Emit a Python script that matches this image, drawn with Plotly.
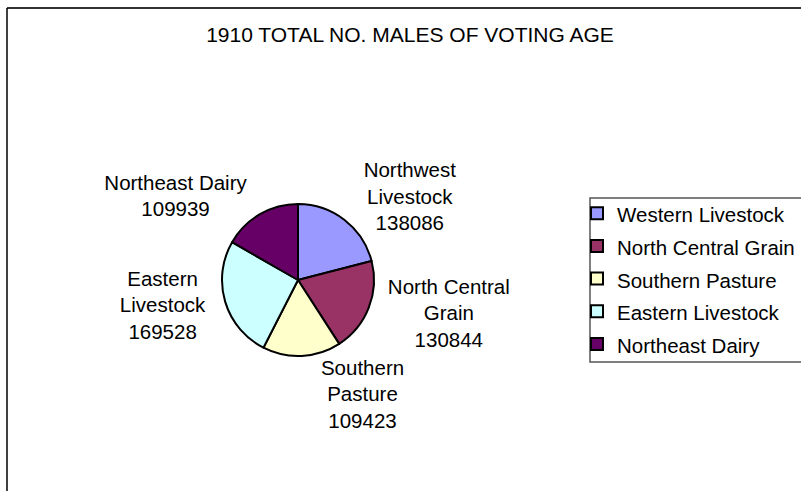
import plotly.graph_objects as go

categories = ["Western Livestock", "North Central Grain", "Southern Pasture",
              "Eastern Livestock", "Northeast Dairy"]
slice_labels = ["Northwest<br>Livestock", "North Central<br>Grain", "Southern<br>Pasture",
                "Eastern<br>Livestock", "Northeast Dairy"]
values = [138086, 130844, 109423, 169528, 109939]
colors = ["#9999FF", "#993366", "#FFFFCC", "#CCFFFF", "#660066"]

W, H = 801, 491
cx, cy, r = 298, 280, 76
FONT = "Liberation Sans, Arial, sans-serif"
FS = 20.5

legend_names = [f"<span style='font-size:{FS}px'>{c}</span>" for c in categories]

fig = go.Figure(go.Pie(
    labels=legend_names,
    values=values,
    customdata=slice_labels,
    texttemplate="%{customdata}<br>%{value:.0f}",
    textposition="outside",
    textfont=dict(family=FONT, size=FS, color="black"),
    marker=dict(colors=colors, line=dict(color="black", width=2)),
    sort=False,
    direction="clockwise",
    rotation=0,
    domain=dict(x=[(cx - r) / W, (cx + r) / W], y=[(H - cy - r) / H, (H - cy + r) / H]),
    hoverinfo="label+value",
))

fig.update_layout(
    width=W, height=H,
    margin=dict(l=0, r=0, t=0, b=0),
    paper_bgcolor="white",
    font=dict(family=FONT, size=FS, color="black"),
    title=dict(text="1910 TOTAL NO. MALES OF VOTING AGE", x=410 / W, xanchor="center",
               y=1 - 35 / H, yanchor="middle",
               font=dict(family=FONT, size=21, color="black")),
    showlegend=True,
    legend=dict(x=577 / W, xanchor="left", y=1 - 192 / H, yanchor="top",
                font=dict(family=FONT, size=22.8, color="black"),
                bgcolor="rgba(0,0,0,0)", borderwidth=0, itemwidth=30,
                tracegroupgap=0),
    shapes=[
        dict(type="line", xref="paper", yref="paper", x0=7 / W, x1=1.01, y0=1 - 8 / H, y1=1 - 8 / H,
             line=dict(color="#333333", width=2)),
        dict(type="line", xref="paper", yref="paper", x0=7 / W, x1=7 / W, y0=1 - 8 / H, y1=-0.01,
             line=dict(color="black", width=1.5)),
        dict(type="rect", xref="paper", yref="paper", x0=590 / W, x1=1.02, y0=1 - 362 / H, y1=1 - 198 / H,
             line=dict(color="#555555", width=1.5)),
    ],
)

fig.write_html("out.html", config={"displayModeBar": False},
               post_script="document.body.style.margin='0';document.body.style.overflow='hidden';")
